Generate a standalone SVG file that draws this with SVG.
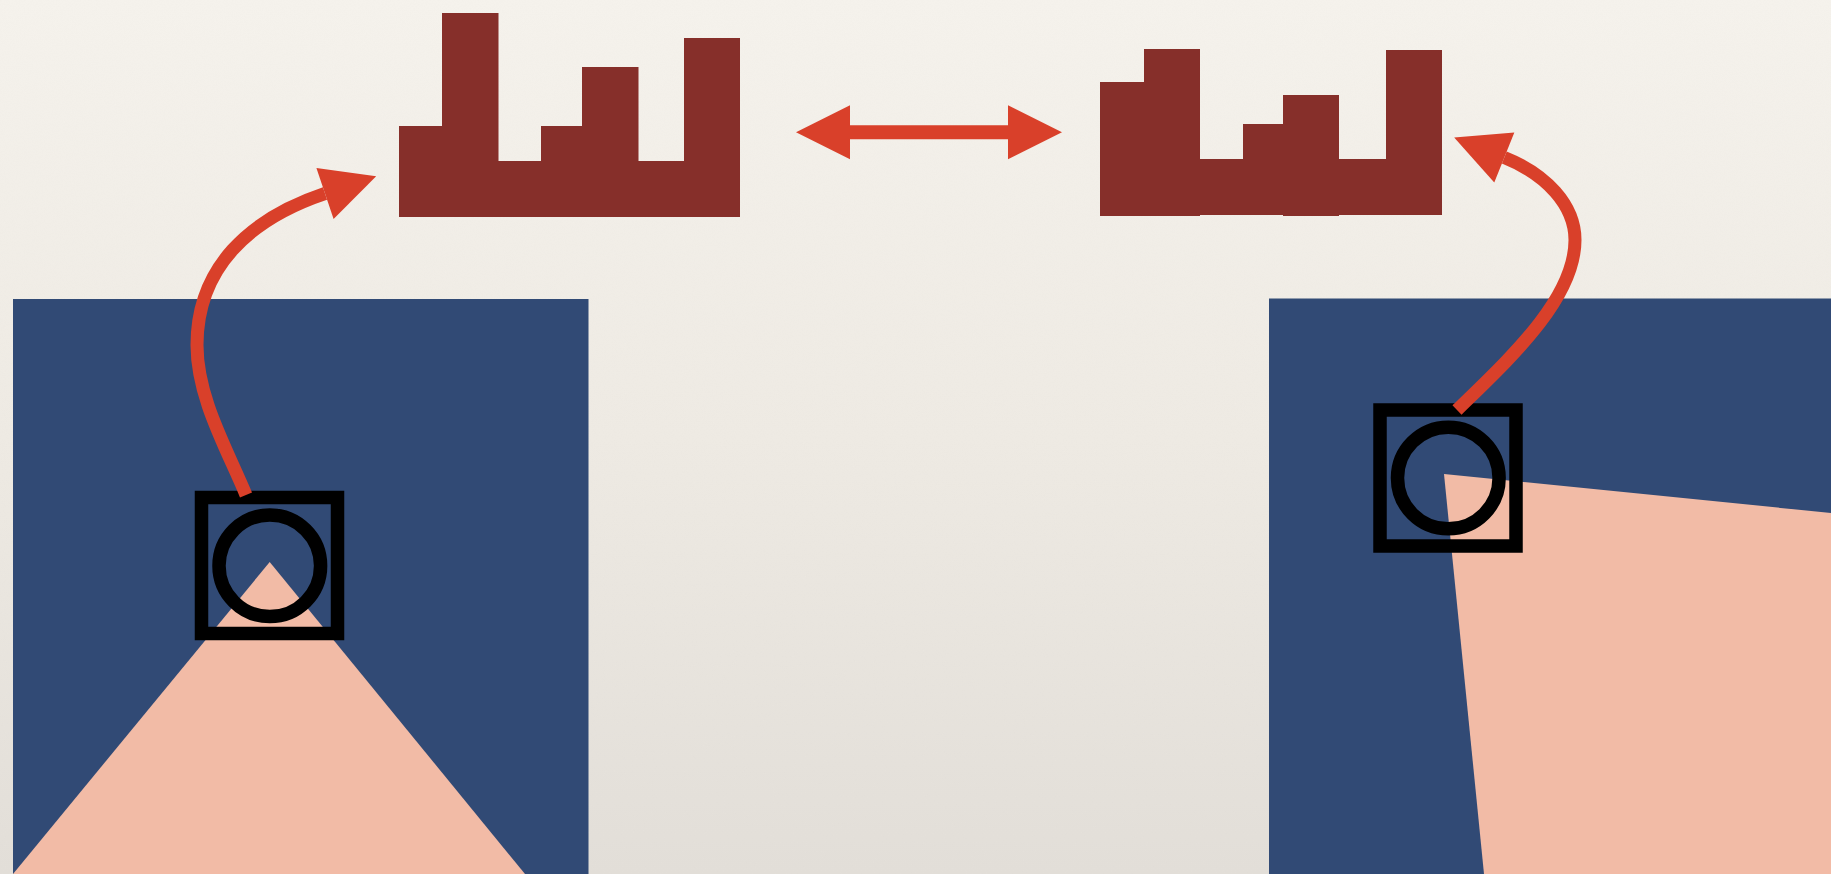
<svg xmlns="http://www.w3.org/2000/svg" width="1831" height="874" viewBox="0 0 1831 874">
  <defs>
    <linearGradient id="paper" x1="0" y1="0" x2="0" y2="1">
      <stop offset="0" stop-color="#f6f3ed"/>
      <stop offset="0.5" stop-color="#efebe4"/>
      <stop offset="1" stop-color="#e3dfd9"/>
    </linearGradient>
    <filter id="grain" x="0" y="0" width="100%" height="100%">
      <feTurbulence type="fractalNoise" baseFrequency="0.9" numOctaves="2" seed="3" result="n"/>
      <feColorMatrix type="matrix" values="0 0 0 0 0.5  0 0 0 0 0.48  0 0 0 0 0.45  0 0 0 0.05 0"/>
    </filter>
    <marker id="head" markerUnits="userSpaceOnUse" markerWidth="54" markerHeight="54" refX="0" refY="27" orient="auto-start-reverse" overflow="visible">
      <path d="M0,0 L54,27 L0,54 Z" fill="#d9402a"/>
    </marker>
    <style>
      .bar { fill: #862f2a; }
      .panel { fill: #314a75; }
      .beam { fill: #f2bba6; }
      .frame { fill: none; stroke: #000; stroke-width: 13.5; }
      .conn { fill: none; stroke: #d9402a; }
    </style>
  </defs>

  <rect x="0" y="0" width="1831" height="874" fill="url(#paper)"/>
  <rect x="0" y="0" width="1831" height="874" filter="url(#grain)"/>

  <g id="histogram-left">
    <rect class="bar" x="399" y="126" width="43.5" height="91"/>
    <rect class="bar" x="442" y="13" width="56.5" height="204"/>
    <rect class="bar" x="498" y="161" width="43.5" height="56"/>
    <rect class="bar" x="541" y="126" width="41.5" height="91"/>
    <rect class="bar" x="582" y="67" width="56.5" height="150"/>
    <rect class="bar" x="638" y="161" width="46.5" height="56"/>
    <rect class="bar" x="684" y="38" width="56" height="179"/>
  </g>

  <g id="histogram-right">
    <rect class="bar" x="1100" y="82" width="44.5" height="134"/>
    <rect class="bar" x="1144" y="49" width="56" height="167"/>
    <rect class="bar" x="1200" y="159" width="43.5" height="56"/>
    <rect class="bar" x="1243" y="124" width="40.5" height="91"/>
    <rect class="bar" x="1283" y="95" width="56" height="121"/>
    <rect class="bar" x="1339" y="159" width="47.5" height="56"/>
    <rect class="bar" x="1386" y="50" width="56" height="165"/>
  </g>

  <g id="scene-left">
    <rect class="panel" x="13" y="299" width="575.5" height="575"/>
    <polygon class="beam" points="269.7,562 525,874 13,874"/>
    <rect class="frame" x="201.5" y="497.5" width="136" height="136"/>
    <circle class="frame" cx="269.8" cy="565.8" r="50.8"/>
  </g>

  <g id="scene-right">
    <rect class="panel" x="1269" y="298.5" width="562" height="575.5"/>
    <polygon class="beam" points="1444,474 1831,513 1831,874 1484,874"/>
    <rect class="frame" x="1380" y="410" width="136" height="136"/>
    <circle class="frame" cx="1448.3" cy="478" r="50.8"/>
  </g>

  <g id="connectors">
    <line class="conn" x1="850" y1="132.3" x2="1008" y2="132.3" stroke-width="14" marker-start="url(#head)" marker-end="url(#head)"/>
    <path class="conn" d="M246,495 C227,449 197,398 197,345 C197,268 249,219 325,193.5" stroke-width="13" marker-end="url(#head)"/>
    <path class="conn" d="M1457,410 C1507,361 1575,300 1575,240 C1575,205 1546,174.2 1504.3,157.5" stroke-width="13" marker-end="url(#head)"/>
  </g>
</svg>
